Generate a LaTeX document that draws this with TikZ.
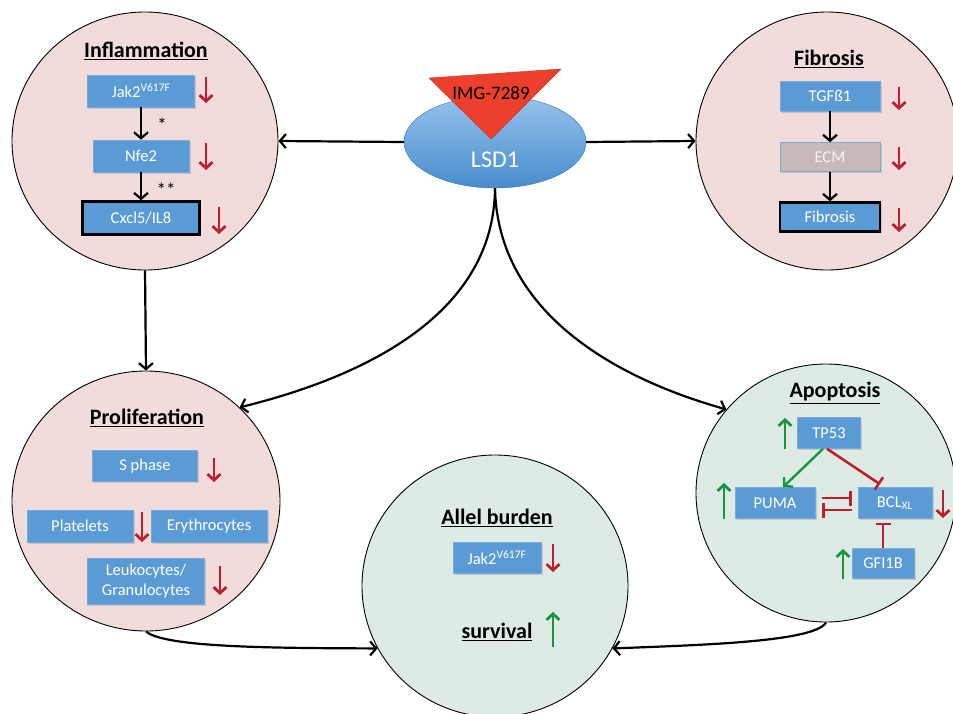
\documentclass[tikz,border=0pt]{standalone}
\usepackage{fontspec}
\setmainfont{Carlito}
\usetikzlibrary{arrows.meta,shapes.geometric,shadows}
\definecolor{boxblue}{RGB}{91,155,213}
\definecolor{boxedge}{RGB}{120,170,222}
\definecolor{pinkfill}{RGB}{242,220,219}
\definecolor{greenfill}{RGB}{222,235,229}
\definecolor{downred}{RGB}{190,30,45}
\definecolor{upgreen}{RGB}{25,150,65}
\definecolor{ecmfill}{RGB}{201,186,186}
\definecolor{trired}{RGB}{236,64,45}
\definecolor{lsdtop}{RGB}{150,195,235}
\definecolor{lsdbot}{RGB}{72,140,205}
\begin{document}
\begin{tikzpicture}[x=1pt,y=-1pt,
  region/.style={ellipse, draw=black, line width=0.9pt, inner sep=0pt},
  gbox/.style={rectangle, fill=boxblue, draw=boxedge, line width=0.6pt, text=white,
    font=\fontsize{16.5}{20}\selectfont, inner sep=0pt, align=center,
    drop shadow={shadow xshift=1.5pt,shadow yshift=-1.5pt,opacity=0.3}},
  keybox/.style={gbox, draw=black, line width=2.4pt},
  title/.style={font=\fontsize{22}{24}\selectfont\bfseries},
  conn/.style={draw=black, line width=2.2pt, -{Straight Barb[length=6pt,width=14pt]}},
  downarr/.style={draw=downred, line width=2.8pt, -{Straight Barb[length=6pt,width=13pt]}},
  uparr/.style={draw=upgreen, line width=2.8pt, -{Straight Barb[length=6pt,width=13pt]}},
  inhib/.style={draw=downred, line width=2.6pt, -{Bar[width=15pt]}},
  actg/.style={draw=upgreen, line width=2.4pt, -{Straight Barb[length=6pt,width=13pt]}},
  star/.style={font=\fontsize{19}{19}\selectfont}
]
\path[use as bounding box] (0,0) rectangle (953,713);
\fill[white] (0,0) rectangle (953,713);

% regions
\node[region, fill=pinkfill, minimum width=266pt, minimum height=258pt] (infl) at (145,141) {};
\node[region, fill=pinkfill, minimum width=262pt, minimum height=258pt] (fib) at (827,141) {};
\node[region, fill=pinkfill, minimum width=268pt, minimum height=260pt] (prol) at (146,501) {};
\node[region, fill=greenfill, minimum width=260pt, minimum height=258pt] (apop) at (826,493) {};
\node[region, fill=greenfill, minimum width=266pt, minimum height=262pt] (allel) at (495,586) {};

% LSD1
\node[ellipse, top color=lsdtop, bottom color=lsdbot, draw=lsdbot!80!black, line width=0.4pt,
  minimum width=182pt, minimum height=92pt, inner sep=0pt] (lsd) at (495,142) {};
\node[text=white, font=\fontsize{24}{26}\selectfont] (lsdtxt) at (495,160) {LSD1};
\filldraw[fill=trired, draw=trired!80!black, line width=0.4pt] (429,78) -- (561,69) -- (491,139) -- cycle;
\node[font=\fontsize{19}{21}\selectfont] (img) at (491,93) {IMG-7289};

% titles
\node[title] (tinfl) at (146,51) {\underline{Inflammation}};
\node[title] (tfib) at (829,59) {\underline{Fibrosis}};
\node[title] (tprol) at (147,418) {\underline{Proliferation}};
\node[title] (tapop) at (835,393) {\underline{Apoptosis}};
\node[title] (tallel) at (497,518) {\underline{Allel burden}};
\node[title] (tsurv) at (497,632) {\underline{survival}};

% inflammation boxes
\node[gbox, minimum width=107pt, minimum height=32pt] (jak) at (141,91) {Jak2\textsuperscript{V617F}};
\node[gbox, minimum width=96pt, minimum height=32pt] (nfe) at (141,156) {Nfe2};
\node[keybox, minimum width=117pt, minimum height=33pt] (cxcl) at (141,218) {Cxcl5/IL8};
\draw[conn] (jak) -- (nfe);
\draw[conn] (nfe) -- (cxcl);
\node[star] (s1) at (162,125) {*};
\node[star] (s2) at (166,190) {**};
\draw[downarr] (206,77) -- (206,103);
\draw[downarr] (206,143) -- (206,170);
\draw[downarr] (219,207) -- (219,234);

% fibrosis boxes
\node[gbox, minimum width=100pt, minimum height=30pt] (tgf) at (830,96) {TGFß1};
\node[gbox, fill=ecmfill, text=white!92!gray, minimum width=100pt, minimum height=29pt] (ecm) at (830,157) {ECM};
\node[keybox, minimum width=100pt, minimum height=29pt] (fbox) at (830,217) {Fibrosis};
\draw[conn] (tgf) -- (ecm);
\draw[conn] (ecm) -- (fbox);
\draw[downarr] (899,87) -- (899,110);
\draw[downarr] (899,147) -- (899,170);
\draw[downarr] (899,208) -- (899,232);

% proliferation boxes
\node[gbox, minimum width=105pt, minimum height=31pt] (sph) at (145,466) {S phase};
\node[gbox, minimum width=106pt, minimum height=32pt] (plt) at (80,526) {Platelets};
\node[gbox, minimum width=116pt, minimum height=32pt] (ery) at (209,526) {Erythrocytes};
\node[gbox, minimum width=117pt, minimum height=46pt] (leu) at (146,581) {Leukocytes/\\Granulocytes};
\draw[downarr] (214,458) -- (214,482);
\draw[downarr] (142,512) -- (142,542);
\draw[downarr] (220,566) -- (220,595);

% apoptosis boxes
\node[gbox, minimum width=63pt, minimum height=31pt] (tp) at (829,433) {TP53};
\node[gbox, minimum width=80pt, minimum height=31pt] (puma) at (775,503) {PUMA};
\node[gbox, minimum width=74pt, minimum height=31pt] (bcl) at (895,503) {BCL\textsubscript{XL}};
\node[gbox, minimum width=62pt, minimum height=30pt] (gfi) at (883,563) {GFI1B};
\draw[actg] ([xshift=-6pt]tp.south) -- ([xshift=8pt]puma.north);
\draw[inhib] ([xshift=-2pt]tp.south) -- ([xshift=-15pt,yshift=3pt]bcl.north);
\draw[inhib, shorten <=7pt, shorten >=6pt] ([yshift=5pt]puma.east) -- ([yshift=5pt]bcl.west);
\draw[inhib, shorten <=6pt, shorten >=7pt] ([yshift=-7pt]bcl.west) -- ([yshift=-7pt]puma.east);
\draw[inhib, shorten >=4pt] (gfi.north) -- (gfi.north |- bcl.south);
\draw[uparr] (785,449) -- (785,418);
\draw[uparr] (724,519) -- (724,483);
\draw[uparr] (843,579) -- (843,549);
\draw[downarr] (943,490) -- (943,518);

% allel burden
\node[gbox, minimum width=88pt, minimum height=31pt] (jak2) at (497,558) {Jak2\textsuperscript{V617F}};
\draw[downarr] (553,544) -- (553,572);
\draw[uparr] (553,647) -- (553,612);

% connectors
\draw[conn] (lsd.west) -- (infl.east);
\draw[conn] (lsd.east) -- (fib.west);
\draw[conn] (infl.south) -- (prol.north);
\draw[conn] (lsd.south) .. controls (494,330) and (330,385) .. (prol.45);
\draw[conn] (lsd.south) .. controls (498,330) and (650,388) .. (apop.140);
\draw[conn] (prol.south) .. controls (165,648) and (280,648) .. (allel.208);
\draw[conn] (apop.south) .. controls (815,642) and (700,645) .. (allel.332);
\end{tikzpicture}
\end{document}
